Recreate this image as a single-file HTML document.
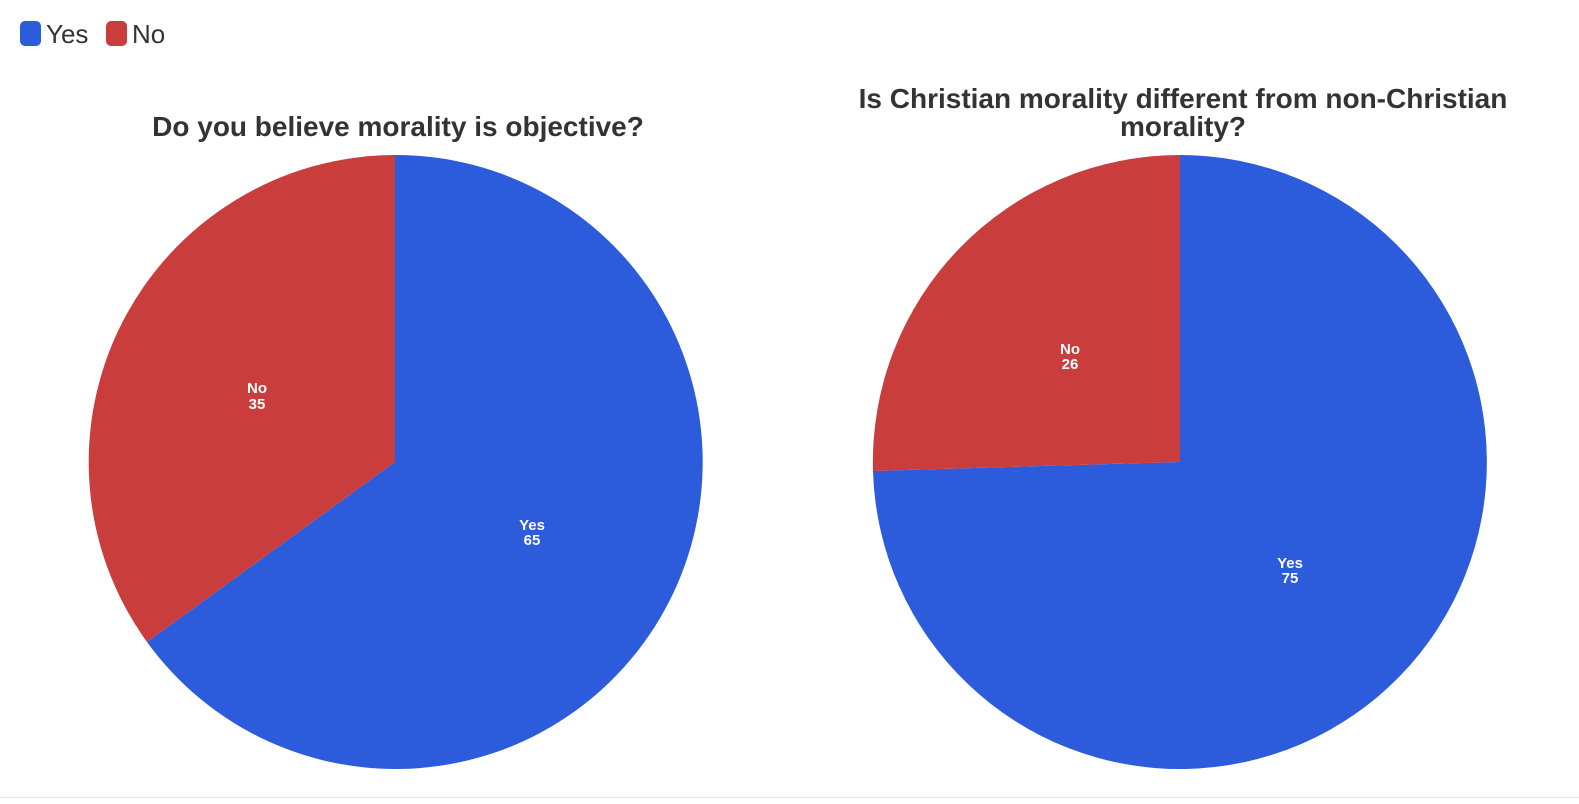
<!DOCTYPE html>
<html><head><meta charset="utf-8"><style>
html,body{margin:0;padding:0;background:#fff;width:1579px;height:804px;overflow:hidden;font-family:"Liberation Sans",sans-serif;}
</style></head><body>
<svg width="1579" height="804" xmlns="http://www.w3.org/2000/svg">
<rect x="0" y="0" width="1579" height="804" fill="#fff"/>
<line x1="0" y1="797.5" x2="1579" y2="797.5" stroke="#e6e6e6" stroke-width="1"/>
<rect x="20" y="21" width="21" height="25" rx="5" fill="#2c5bdb"/>
<text x="46" y="43" font-size="26" fill="#333" font-family="Liberation Sans, sans-serif">Yes</text>
<rect x="106" y="21" width="21" height="25" rx="5" fill="#c93d3d"/>
<text x="132" y="43" font-size="26" fill="#333" font-family="Liberation Sans, sans-serif">No</text>

<g font-family="Liberation Sans, sans-serif" font-weight="bold" fill="#333" font-size="28" text-anchor="middle">
<text x="398" y="136">Do you believe morality is objective?</text>
<text x="1183" y="108">Is Christian morality different from non-Christian</text>
<text x="1183" y="136">morality?</text>
</g>

<path d="M395,462 L395,155 A307,307 0 1 1 147,642 Z" fill="#2c5bdb"/>
<path d="M395,462 L147,642 A307,307 0 0 1 395,155 Z" fill="#c93d3d"/>

<path d="M1180,462 L1180,155 A307,307 0 1 1 873,471 Z" fill="#2c5bdb"/>
<path d="M1180,462 L873,471 A307,307 0 0 1 1180,155 Z" fill="#c93d3d"/>

<g font-family="Liberation Sans, sans-serif" font-weight="bold" fill="#fff" font-size="15" text-anchor="middle">
<text x="257" y="393">No</text><text x="257" y="409">35</text>
<text x="532" y="530">Yes</text><text x="532" y="545">65</text>
<text x="1070" y="354">No</text><text x="1070" y="369">26</text>
<text x="1290" y="568">Yes</text><text x="1290" y="583">75</text>
</g>
</svg>
</body></html>
